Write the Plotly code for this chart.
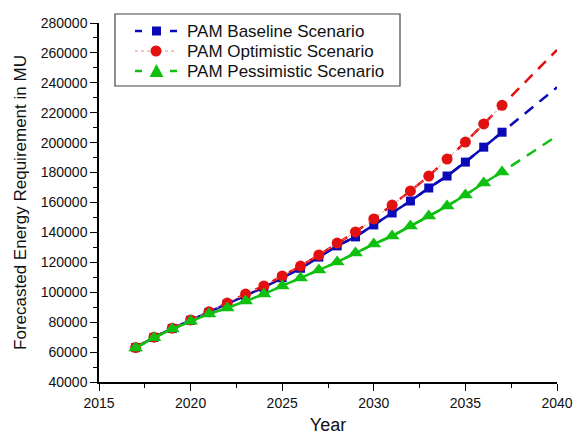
import plotly.graph_objects as go

# Forecast years with modelled values
years = list(range(2017, 2038))

baseline = [63000, 69800, 75800, 81200, 86500, 92000, 97800, 103300, 109700, 116000,
            123500, 131000, 137000, 145000, 153000, 161000, 169700, 177700, 187000,
            197000, 207000]
optimistic = [63000, 70000, 76000, 81500, 86900, 92800, 98800, 104200, 110900, 117500,
              124900, 132900, 140300, 149000, 158300, 167700, 177700, 189000, 200400,
              212500, 225000]
pessimistic = [62800, 69600, 75400, 80600, 85500, 89500, 94100, 98800, 104200, 109500,
               114900, 120200, 126200, 132200, 137600, 144300, 151000, 157600, 165000,
               173000, 180400]

# Trend projection end points for the year 2040
proj_year = 2040
baseline_2040 = 237000
optimistic_2040 = 262000
pessimistic_2040 = 204500

names = ["PAM Baseline Scenario", "PAM Optimistic Scenario", "PAM Pessimistic Scenario"]
colors = ["#0a0ab8", "#e31010", "#10c010"]
symbols = ["square", "circle", "triangle-up"]
sizes = [9, 11, 13]
series = [baseline, optimistic, pessimistic]
ends = [baseline_2040, optimistic_2040, pessimistic_2040]
data_dash = ["solid", "dot", "solid"]
data_width = [2.5, 1, 2.5]
data_color = ["#0a0ab8", "#f08a8a", "#10c010"]

# plot area in pixels
W, H = 580, 439
L, R, T, B = 99, 23, 23, 57
PW, PH = W - L - R, H - T - B


def px(x):
    return (x - L) / PW


def py(y):
    return (H - B - y) / PH


fig = go.Figure()

for name, col, sym, sz, vals, end, dd, dw, dc in zip(
        names, colors, symbols, sizes, series, ends, data_dash, data_width, data_color):
    # dashed trend through the forecast and on to 2040
    fig.add_trace(go.Scatter(
        x=years + [proj_year], y=vals + [end], mode="lines",
        line=dict(color=col, width=2.5, dash="11px,8px"),
        showlegend=False, hoverinfo="skip"))
    # modelled points
    fig.add_trace(go.Scatter(
        x=years, y=vals, mode="lines+markers",
        line=dict(color=dc, width=dw, dash=dd),
        marker=dict(symbol=sym, size=sz, color=col, line=dict(width=0)),
        showlegend=False, name=name))

# boxed key in the upper left corner
shapes = [dict(type="rect", xref="paper", yref="paper",
               x0=px(115), x1=px(400), y0=py(86), y1=py(14),
               line=dict(color="#444", width=1.2), fillcolor="white", layer="above")]
annotations = []
for i, (name, col, sym) in enumerate(zip(names, colors, symbols)):
    yc = 31 + 20 * i
    if sym == "circle":
        shapes.append(dict(type="line", xref="paper", yref="paper",
                           x0=px(135), x1=px(177), y0=py(yc), y1=py(yc),
                           line=dict(color="#f08a8a", width=1, dash="dot")))
        shapes.append(dict(type="circle", xref="paper", yref="paper",
                           x0=px(150.5), x1=px(161.5), y0=py(yc + 5.5), y1=py(yc - 5.5),
                           line=dict(width=0), fillcolor=col))
    else:
        for a, b in [(135, 142), (170, 177)]:
            shapes.append(dict(type="line", xref="paper", yref="paper",
                               x0=px(a), x1=px(b), y0=py(yc), y1=py(yc),
                               line=dict(color=col, width=2.5)))
        if sym == "square":
            shapes.append(dict(type="rect", xref="paper", yref="paper",
                               x0=px(152), x1=px(161), y0=py(yc + 4.5), y1=py(yc - 4.5),
                               line=dict(width=0), fillcolor=col))
        else:
            path = "M {:.4f} {:.4f} L {:.4f} {:.4f} L {:.4f} {:.4f} Z".format(
                px(149.5), py(yc + 6), px(163.5), py(yc + 6), px(156.5), py(yc - 7))
            shapes.append(dict(type="path", xref="paper", yref="paper", path=path,
                               line=dict(width=0), fillcolor=col))
    annotations.append(dict(xref="paper", yref="paper", x=px(185), y=py(yc),
                            xanchor="left", yanchor="middle", showarrow=False,
                            text=name, font=dict(size=17, color="#111")))

axis_font = dict(family="Liberation Sans, Arial, sans-serif", size=14, color="#111")

fig.update_layout(
    width=W, height=H,
    margin=dict(l=L, r=R, t=T, b=B),
    paper_bgcolor="white", plot_bgcolor="white",
    font=dict(family="Liberation Sans, Arial, sans-serif", color="#111"),
    showlegend=False,
    shapes=shapes,
    annotations=annotations,
    xaxis=dict(
        range=[2015, 2040], dtick=5, tick0=2015, automargin=False,
        showgrid=False, zeroline=False,
        showline=True, linecolor="black", linewidth=1.5,
        ticks="outside", ticklen=7, tickwidth=1.2, tickcolor="black",
        minor=dict(dtick=2.5, ticks="outside", ticklen=4, tickcolor="black", showgrid=False),
        tickfont=axis_font,
        title=dict(text="Year", font=dict(size=18, color="#111"), standoff=9),
    ),
    yaxis=dict(
        range=[40000, 280000], dtick=20000, tick0=40000, tickformat="d", automargin=False,
        showgrid=False, zeroline=False,
        showline=True, linecolor="black", linewidth=1.5,
        ticks="outside", ticklen=7, tickwidth=1.2, tickcolor="black",
        minor=dict(dtick=10000, ticks="outside", ticklen=4, tickcolor="black", showgrid=False),
        tickfont=axis_font,
        title=dict(text="Forecasted Energy Requirement in MU",
                   font=dict(size=17, color="#111"), standoff=10),
    ),
)

fig.write_html("out.html")
